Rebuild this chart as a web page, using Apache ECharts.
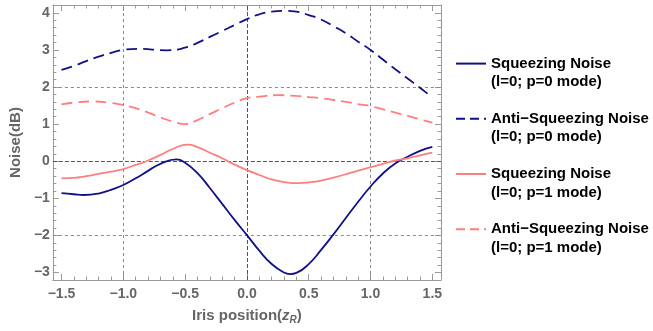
<!DOCTYPE html>
<html>
<head>
<meta charset="utf-8">
<script src="https://cdn.jsdelivr.net/npm/echarts@6/dist/echarts.min.js"></script>
<style>html,body{margin:0;padding:0;background:#fff;}#c{width:653px;height:331px;}</style>
</head>
<body>
<div id="c"></div>
<script>
// Iris position (z_R) and noise (dB), one x list per curve
var sqz0X = [-1.5,-1.4,-1.32,-1.2,-1.1,-1.0,-0.9,-0.8,-0.7,-0.57,-0.5,-0.4,-0.3,-0.2,-0.1,0,0.1,0.2,0.3,0.35,0.4,0.5,0.6,0.7,0.8,0.9,1.0,1.1,1.2,1.3,1.4,1.5];
var sqz0Y = [-0.86,-0.89,-0.91,-0.87,-0.77,-0.64,-0.46,-0.26,-0.07,0.05,-0.04,-0.32,-0.72,-1.15,-1.58,-1.99,-2.41,-2.77,-3.0,-3.04,-3.01,-2.77,-2.39,-1.97,-1.53,-1.09,-0.68,-0.33,-0.06,0.12,0.28,0.39];
var anti0X = [-1.5,-1.4,-1.3,-1.2,-1.1,-1.0,-0.88,-0.65,-0.5,-0.4,-0.3,-0.2,-0.1,0,0.1,0.2,0.3,0.4,0.5,0.6,0.7,0.8,0.9,1.0,1.1,1.2,1.3,1.4,1.5];
var anti0Y = [2.46,2.57,2.70,2.82,2.92,3.00,3.03,2.99,3.06,3.19,3.35,3.51,3.67,3.83,3.96,4.03,4.05,4.03,3.94,3.82,3.64,3.45,3.22,3.00,2.74,2.48,2.23,1.98,1.72];
var sqz1X = [-1.5,-1.4,-1.3,-1.2,-1.1,-1.0,-0.9,-0.8,-0.7,-0.6,-0.48,-0.4,-0.3,-0.2,-0.1,0,0.1,0.2,0.3,0.42,0.5,0.6,0.7,0.8,0.9,1.0,1.1,1.2,1.3,1.4,1.5];
var sqz1Y = [-0.46,-0.45,-0.40,-0.34,-0.28,-0.21,-0.10,0.02,0.17,0.33,0.45,0.38,0.23,0.08,-0.09,-0.24,-0.37,-0.49,-0.56,-0.59,-0.57,-0.52,-0.44,-0.35,-0.25,-0.16,-0.07,0.02,0.08,0.16,0.23];
var anti1X = [-1.5,-1.4,-1.25,-1.1,-1.0,-0.9,-0.8,-0.7,-0.6,-0.5,-0.4,-0.3,-0.2,-0.1,0,0.1,0.25,0.4,0.5,0.6,0.7,0.8,0.9,1.0,1.1,1.2,1.3,1.4,1.5];
var anti1Y = [1.53,1.58,1.61,1.57,1.51,1.43,1.31,1.18,1.07,1.00,1.11,1.27,1.43,1.58,1.70,1.74,1.78,1.76,1.73,1.70,1.65,1.60,1.54,1.49,1.40,1.31,1.22,1.13,1.04];
var seriesNames = ['Squeezing Noise\n(l=0; p=0 mode)','Anti\u2212Squeezing Noise\n(l=0; p=0 mode)','Squeezing Noise\n(l=0; p=1 mode)','Anti\u2212Squeezing Noise\n(l=0; p=1 mode)'];
var xGrid = [-1, 0, 1];
var yGrid = [-2, 0, 2];
var xRange = [-1.57, 1.57];
var yRange = [-3.2, 4.21];

function pairs(xs, ys){ return xs.map(function(x,i){ return [x, ys[i]]; }); }

var NAVY = '#111187', PINK = '#ff7f7f';
var FONT = 'Liberation Sans, Arial, sans-serif';
var frameColor = '#9a9a9a';
var DASH = [11,6];

function gridLine(axis, v){
  var o = {}; o[axis] = v;
  o.lineStyle = {color: v === 0 ? '#555' : '#8a8a8a', type: v === 0 ? [4,2] : [3,3], width: 1};
  return o;
}

function baseAxis(extra){
  var a = {
    type: 'value',
    axisLine: {show: true, onZero: false, lineStyle: {color: frameColor, width: 1}},
    axisTick: {show: true, inside: true, length: 6, lineStyle: {color: frameColor}},
    minorTick: {show: true, splitNumber: 5, length: 3.5, lineStyle: {color: frameColor}},
    splitLine: {show: false},
    axisLabel: {show: true, showMinLabel: false, showMaxLabel: false, color: '#666', fontFamily: FONT, fontWeight: 'bold', fontSize: 14,
      formatter: function(v){ var s = (Math.abs(v) < 1e-9) ? '0' : String(v); return s.replace('-', '\u2212'); }}
  };
  for (var k in extra) a[k] = extra[k];
  return a;
}

var chart = echarts.init(document.getElementById('c'), null, {renderer: 'canvas'});
var xFmt = function(v){ var s = Math.abs(v) < 1e-9 ? '0.0' : v.toFixed(1); return s.replace('-', '\u2212'); };
var x0 = baseAxis({min: xRange[0], max: xRange[1], splitNumber: 6, position: 'bottom',
  name: 'Iris position({i|z}{s|R})', nameLocation: 'middle', nameGap: 27,
  nameTextStyle: {color: '#666', fontFamily: FONT, fontWeight: 'bold', fontSize: 15,
    rich: {i: {fontStyle: 'italic', fontWeight: 'bold', fontSize: 15, color: '#666', fontFamily: FONT},
           s: {fontStyle: 'italic', fontWeight: 'bold', fontSize: 10, color: '#666', fontFamily: FONT, padding: [8,0,0,0]}}}});
x0.axisLabel.formatter = xFmt;
x0.axisLabel.margin = 7;
var x1 = baseAxis({min: xRange[0], max: xRange[1], splitNumber: 6, position: 'top'});
x1.axisLabel = {show: false};
var y0 = baseAxis({min: yRange[0], max: yRange[1], splitNumber: 7, position: 'left',
  name: 'Noise(dB)', nameLocation: 'middle', nameGap: 25,
  nameTextStyle: {color: '#666', fontFamily: FONT, fontWeight: 'bold', fontSize: 15}});
y0.axisLabel.margin = 3;
var y1 = baseAxis({min: yRange[0], max: yRange[1], splitNumber: 7, position: 'right'});
y1.axisLabel = {show: false};

var colors = [NAVY, NAVY, PINK, PINK];
var dashed = [false, true, false, true];

function mkSeries(i, xs, ys, withGrid){
  var s = {
    name: seriesNames[i], type: 'line', data: pairs(xs, ys), smooth: 0.5, symbol: 'none', showSymbol: false,
    xAxisIndex: 0, yAxisIndex: 0, z: 3,
    lineStyle: {color: colors[i], width: 1.8, type: dashed[i] ? DASH : 'solid'},
    itemStyle: {color: colors[i]}
  };
  if (withGrid){
    s.markLine = {silent: true, symbol: ['none','none'], z: 1, animation: false, label: {show: false},
      data: xGrid.map(function(v){ return gridLine('xAxis', v); }).concat(yGrid.map(function(v){ return gridLine('yAxis', v); }))};
  }
  return s;
}

chart.setOption({
  animation: false,
  backgroundColor: '#fff',
  grid: {left: 48, top: 5, width: 393, height: 275, containLabel: false},
  xAxis: [x0, x1],
  yAxis: [y0, y1],
  legend: {
    orient: 'vertical', left: 455, top: 36, padding: 0, itemGap: 0,
    itemWidth: 30, itemHeight: 14,
    itemStyle: {opacity: 0},
    data: seriesNames.map(function(n, i){
      return {name: n, itemStyle: {opacity: 0},
        lineStyle: {color: colors[i], width: 2, type: dashed[i] ? [9,5] : 'solid'}};
    }),
    formatter: function(n){ return '\n' + n; },
    textStyle: {color: '#000', fontFamily: FONT, fontWeight: 'bold', fontSize: 15, lineHeight: 18.4}
  },
  series: [
    mkSeries(0, sqz0X, sqz0Y, true),
    mkSeries(1, anti0X, anti0Y, false),
    mkSeries(2, sqz1X, sqz1Y, false),
    mkSeries(3, anti1X, anti1Y, false)
  ]
});
</script>
</body>
</html>
